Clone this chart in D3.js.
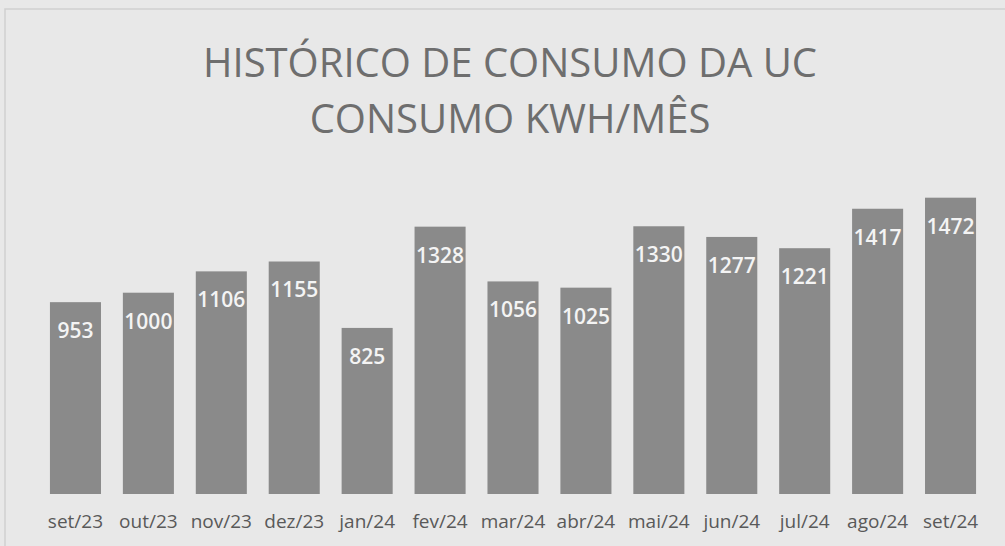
<!DOCTYPE html>
<html>
<style type="text/css">
body { margin: 0; background: #e8e8e8; }
text { font-family: "Open Sans", sans-serif; }
</style>
<body>
<script src="https://d3js.org/d3.v7.min.js"></script>
<script>
// dados do grafico
var months = ["set/23","out/23","nov/23","dez/23","jan/24","fev/24","mar/24","abr/24","mai/24","jun/24","jul/24","ago/24","set/24"];
var consumo = [953, 1000, 1106, 1155, 825, 1328, 1056, 1025, 1330, 1277, 1221, 1417, 1472];
var titleLines = ["HISTÓRICO DE CONSUMO DA UC", "CONSUMO KWH/MÊS"];

var W = 1005, H = 546;
var margin = {top: 190, right: 18, bottom: 52, left: 39};

var svg = d3.select("body").append("svg")
    .attr("width", W)
    .attr("height", H);

// fundo e moldura
svg.append("rect").attr("width", W).attr("height", H).attr("fill", "#e8e8e8");
svg.append("rect")
    .attr("x", 5).attr("y", 9)
    .attr("width", W + 10).attr("height", H + 10)
    .attr("fill", "none").attr("stroke", "#cfcfcf").attr("stroke-width", 1.5);

var x = d3.scaleBand()
    .domain(months)
    .range([margin.left, W - margin.right])
    .paddingInner(0.3)
    .paddingOuter(0.15);

var y = d3.scaleLinear()
    .domain([0, 1500])
    .range([H - margin.bottom, H - margin.bottom - 1500 * 0.2013]);

// titulo
svg.selectAll(".title")
    .data(titleLines)
  .enter().append("text")
    .attr("class", "title")
    .attr("x", 510)
    .attr("y", function(d, i) { return 77 + i * 56; })
    .attr("text-anchor", "middle")
    .attr("fill", "#6e6e6e")
    .style("font-size", "40px")
    .text(function(d) { return d; });

// barras
svg.selectAll(".bar")
    .data(consumo)
  .enter().append("rect")
    .attr("class", "bar")
    .attr("x", function(d, i) { return x(months[i]); })
    .attr("y", function(d) { return y(d); })
    .attr("width", x.bandwidth())
    .attr("height", function(d) { return y(0) - y(d); })
    .attr("fill", "#8a8a8a");

// rotulos de valor
svg.selectAll(".val")
    .data(consumo)
  .enter().append("text")
    .attr("class", "val")
    .attr("x", function(d, i) { return x(months[i]) + x.bandwidth() / 2; })
    .attr("y", function(d) { return y(d) + 36; })
    .attr("text-anchor", "middle")
    .attr("fill", "#f4f4f4")
    .style("font-size", "21px")
    .style("font-weight", "600")
    .text(function(d) { return d; });

// eixo x
var xAxis = svg.append("g")
    .attr("transform", "translate(0," + (H - margin.bottom) + ")")
    .call(d3.axisBottom(x).tickSize(0).tickPadding(21));
xAxis.select(".domain").remove();
xAxis.selectAll("text")
    .attr("fill", "#595959")
    .style("font-size", "19px");
</script>
</body>
</html>
